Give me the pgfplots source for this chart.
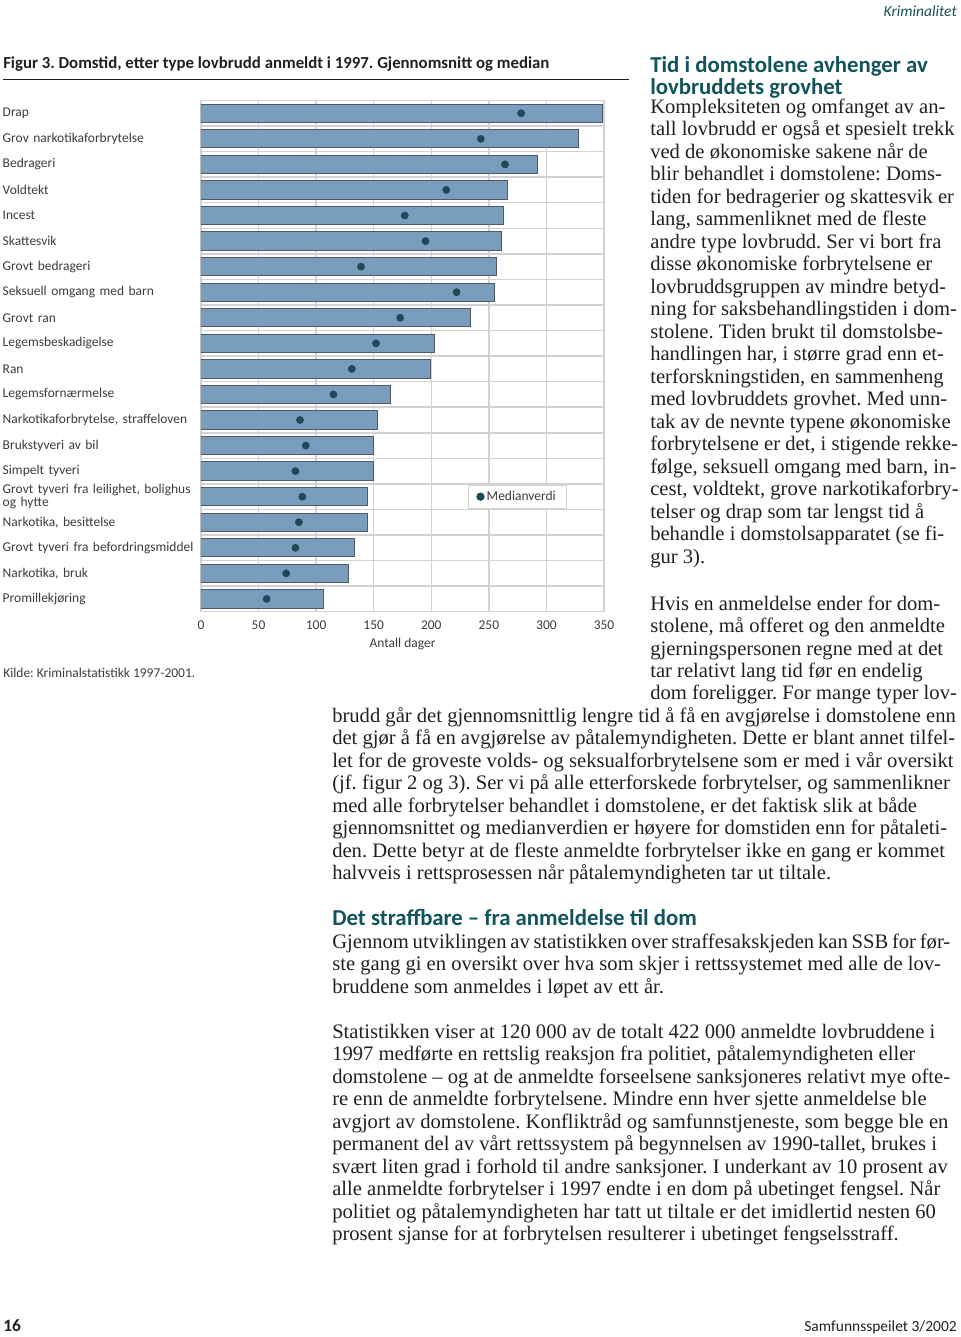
\documentclass[border=0pt]{standalone}
\usepackage{fontspec}
\setmainfont{Liberation Serif}
\newfontfamily\sans{Carlito}
\usepackage{pgfplots}
\pgfplotsset{compat=1.18}
\frenchspacing
\definecolor{headcol}{RGB}{18,84,92}
\definecolor{bodycol}{RGB}{35,31,32}
\definecolor{labcol}{RGB}{60,60,60}
\definecolor{gridcol}{RGB}{210,210,210}
\definecolor{barcol}{RGB}{122,157,189}
\definecolor{barline}{RGB}{77,90,105}
\definecolor{dotcol}{RGB}{30,74,87}
\newcommand\bodyfont{\fontsize{15.45pt}{16.9pt}\selectfont\color{bodycol}\frenchspacing}
\newcommand\headfont{\sans\bfseries\fontsize{17.1pt}{17.1pt}\selectfont\color{headcol}}
\newcommand\chartfont{\sans\fontsize{10.1pt}{9.75pt}\selectfont\color{labcol}}
\newcommand\RL[2]{\node[anchor=base west,inner sep=0,font=\bodyfont] at (650,#1) {#2};}
\newcommand\WL[2]{\node[anchor=base west,inner sep=0,font=\bodyfont] at (332,#1) {#2};}
\begin{document}
\begin{tikzpicture}
\begin{axis}[
  at={(150.75pt,-75.375pt)}, anchor=north west,
  scale only axis, width=302.25pt, height=383.4pt,
  xmin=0, xmax=350, ymin=0.5, ymax=20.5, y dir=reverse,
  xtick={0,50,...,350}, ytick={1,...,20},
  minor ytick={1.5,2.5,...,19.5},
  xmajorgrids, yminorgrids,
  grid style={draw=gridcol, line width=1.1pt},
  minor grid style={draw=gridcol, line width=1.1pt},
  axis line style={draw=gridcol, line width=1.1pt},
  major tick length=0pt, minor tick length=0pt,
  tick style={draw=none},
  /pgf/number format/assume math mode=true,
  ticklabel style={font=\chartfont},
  xticklabel style={yshift=-3.5pt},
  yticklabel style={anchor=east, text width=148.5pt, align=left, inner sep=0pt, font=\chartfont},
  yticklabels={Drap, Grov narkotikaforbrytelse, Bedrageri, Voldtekt, Incest, Skattesvik, Grovt bedrageri, Seksuell omgang med barn, Grovt ran, Legemsbeskadigelse, Ran, Legemsfornærmelse, {Narkotikaforbrytelse, straffeloven}, Brukstyveri av bil, Simpelt tyveri, {Grovt tyveri fra leilighet, bolighus\\og hytte}, {Narkotika, besittelse}, Grovt tyveri fra befordringsmiddel, {Narkotika, bruk}, Promillekjøring},
  xlabel={Antall dager},
  xlabel style={font=\chartfont, yshift=0.5pt},
  legend style={at={(axis cs:275,16)}, anchor=center, draw=gridcol, line width=0.8pt, fill=white, font=\chartfont, inner xsep=6pt, inner ysep=2.5pt},
  legend cell align=left,
]
\addplot[xbar, bar width=13.7pt, fill=barcol, draw=barline, line width=0.75pt, forget plot] coordinates {
(349,1) (328,2) (292,3) (266,4) (263,5) (261,6) (257,7) (255,8) (234,9) (203,10)
(199,11) (165,12) (153,13) (150,14) (150,15) (145,16) (145,17) (133,18) (128,19) (106,20)};
\addplot[only marks, mark=*, mark size=2.7pt, color=dotcol] coordinates {
(278,1) (243,2) (264,3) (213,4) (177,5) (195,6) (139,7) (222,8) (173,9) (152,10)
(131,11) (115,12) (86,13) (91,14) (82,15) (88,16) (85,17) (82,18) (74,19) (57,20)};
\addlegendentry{Medianverdi}
\end{axis}
\begin{scope}[x=0.75pt,y=-0.75pt]
\path[use as bounding box] (0,0) rectangle (960,1337);
\node[anchor=base east,inner sep=0,font=\sans\itshape\fontsize{11.6pt}{12pt}\selectfont\color{headcol}] at (957,17) {Kriminalitet};
\node[anchor=base west,inner sep=0,font=\sans\bfseries\fontsize{12.6pt}{13pt}\selectfont\color{bodycol}] at (3,69) {Figur 3. Domstid, etter type lovbrudd anmeldt i 1997. Gjennomsnitt og median};
\draw[bodycol, line width=0.8pt] (3,79.3) -- (629,79.3);
\node[anchor=base west,inner sep=0,font=\chartfont] at (3,677) {Kilde: Kriminalstatistikk 1997-2001.};
\node[anchor=base west,inner sep=0,font=\headfont] at (650,73) {Tid i domstolene avhenger av};
\node[anchor=base west,inner sep=0,font=\headfont] at (650,94.3) {lovbruddets grovhet};
\RL{113.8}{Kompleksiteten og omfanget av an-}
\RL{136.0}{tall lovbrudd er også et spesielt trekk}
\RL{158.5}{ved de økonomiske sakene når de}
\RL{180.9}{blir behandlet i domstolene: Doms-}
\RL{203.4}{tiden for bedragerier og skattesvik er}
\RL{225.9}{lang, sammenliknet med de fleste}
\RL{248.4}{andre type lovbrudd. Ser vi bort fra}
\RL{270.9}{disse økonomiske forbrytelsene er}
\RL{293.3}{lovbruddsgruppen av mindre betyd-}
\RL{315.8}{ning for saksbehandlingstiden i dom-}
\RL{338.3}{stolene. Tiden brukt til domstolsbe-}
\RL{360.8}{handlingen har, i større grad enn et-}
\RL{383.3}{terforskningstiden, en sammenheng}
\RL{405.7}{med lovbruddets grovhet. Med unn-}
\RL{428.2}{tak av de nevnte typene økonomiske}
\RL{450.7}{forbrytelsene er det, i stigende rekke-}
\RL{473.2}{følge, seksuell omgang med barn, in-}
\RL{495.7}{cest, voldtekt, grove narkotikaforbry-}
\RL{518.1}{telser og drap som tar lengst tid å}
\RL{540.6}{behandle i domstolsapparatet (se fi-}
\RL{563.1}{gur 3).}
\RL{610.0}{Hvis en anmeldelse ender for dom-}
\RL{632.5}{stolene, må offeret og den anmeldte}
\RL{655.0}{gjerningspersonen regne med at det}
\RL{677.4}{tar relativt lang tid før en endelig}
\RL{699.9}{dom foreligger. For mange typer lov-}
\WL{722.4}{brudd går det gjennomsnittlig lengre tid å få en avgjørelse i domstolene enn}
\WL{744.9}{det gjør å få en avgjørelse av påtalemyndigheten. Dette er blant annet tilfel-}
\WL{767.3}{let for de groveste volds- og seksualforbrytelsene som er med i vår oversikt}
\WL{789.8}{(jf. figur 2 og 3). Ser vi på alle etterforskede forbrytelser, og sammenlikner}
\WL{812.3}{med alle forbrytelser behandlet i domstolene, er det faktisk slik at både}
\WL{834.8}{gjennomsnittet og medianverdien er høyere for domstiden enn for påtaleti-}
\WL{857.3}{den. Dette betyr at de fleste anmeldte forbrytelser ikke en gang er kommet}
\WL{879.7}{halvveis i rettsprosessen når påtalemyndigheten tar ut tiltale.}
\node[anchor=base west,inner sep=0,font=\headfont] at (332,925) {Det straffbare – fra anmeldelse til dom};
\WL{948.3}{\hbox to 463.5pt{\spaceskip=0.25em minus 0.09em Gjennom utviklingen av statistikken over straffesakskjeden kan SSB for før-}}
\WL{970.8}{ste gang gi en oversikt over hva som skjer i rettssystemet med alle de lov-}
\WL{993.3}{bruddene som anmeldes i løpet av ett år.}
\WL{1038.2}{Statistikken viser at 120 000 av de totalt 422 000 anmeldte lovbruddene i}
\WL{1060.7}{1997 medførte en rettslig reaksjon fra politiet, påtalemyndigheten eller}
\WL{1083.2}{domstolene – og at de anmeldte forseelsene sanksjoneres relativt mye ofte-}
\WL{1105.6}{re enn de anmeldte forbrytelsene. Mindre enn hver sjette anmeldelse ble}
\WL{1128.1}{avgjort av domstolene. Konfliktråd og samfunnstjeneste, som begge ble en}
\WL{1150.6}{permanent del av vårt rettssystem på begynnelsen av 1990-tallet, brukes i}
\WL{1173.1}{svært liten grad i forhold til andre sanksjoner. I underkant av 10 prosent av}
\WL{1195.6}{alle anmeldte forbrytelser i 1997 endte i en dom på ubetinget fengsel. Når}
\WL{1218.0}{politiet og påtalemyndigheten har tatt ut tiltale er det imidlertid nesten 60}
\WL{1240.5}{prosent sjanse for at forbrytelsen resulterer i ubetinget fengselsstraff.}
\node[anchor=base west,inner sep=0,font=\sans\bfseries\fontsize{13pt}{13pt}\selectfont\color{bodycol}] at (3,1331) {16};
\node[anchor=base east,inner sep=0,font=\sans\fontsize{11.6pt}{12pt}\selectfont\color{bodycol}] at (957,1331) {Samfunnsspeilet 3/2002};
\end{scope}
\end{tikzpicture}
\end{document}
